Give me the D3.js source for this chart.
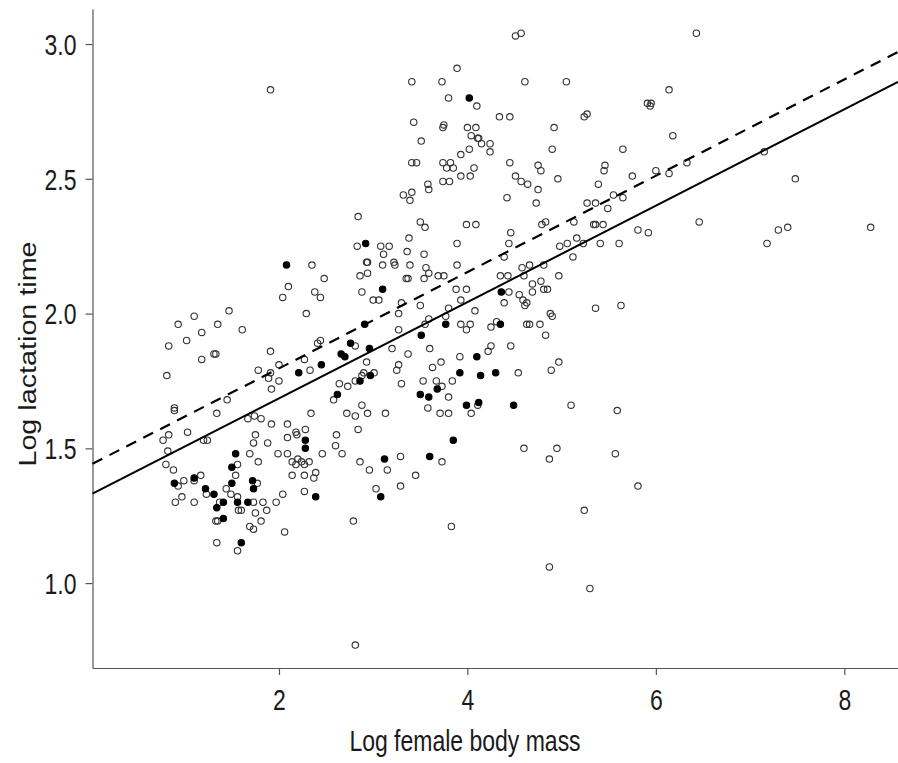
<!DOCTYPE html>
<html>
<head>
<meta charset="utf-8">
<script src="https://cdn.jsdelivr.net/npm/d3@7"></script>
<style>
  html, body { margin: 0; padding: 0; background: #fff; }
  svg { display: block; }
  text { font-family: "Liberation Sans", Arial, sans-serif; }
</style>
</head>
<body>
<svg id="chart" width="898" height="763"></svg>
<script>
// Species drawn as open circles: [log female body mass, log lactation time]
const openPoints = [
  [1.91,2.83],[2.84,2.36],
  [4.51,3.03],[4.57,3.04],[3.89,2.91],[3.41,2.86],[3.73,2.86],[4.61,2.86],[5.05,2.86],[3.80,2.80],
  [4.10,2.77],[3.43,2.71],[4.34,2.73],[4.45,2.73],[5.24,2.73],[5.27,2.74],[3.74,2.69],[3.75,2.70],
  [4.00,2.69],[4.09,2.69],[4.92,2.69],[3.51,2.64],[4.04,2.66],[4.11,2.65],[4.12,2.65],[4.15,2.63],
  [4.24,2.63],[4.02,2.61],[4.24,2.60],[4.90,2.61],[5.65,2.61],[3.93,2.59],[3.41,2.56],[3.46,2.56],
  [3.74,2.56],[3.82,2.56],[3.78,2.54],[3.85,2.54],[4.07,2.54],[4.45,2.56],[4.75,2.55],[4.78,2.53],
  [5.46,2.55],[5.45,2.53],[5.75,2.51],[4.51,2.51],[4.57,2.49],[4.64,2.48],[4.96,2.50],[5.39,2.48],
  [3.74,2.49],[3.81,2.49],[3.93,2.51],[4.03,2.51],[3.58,2.48],[3.59,2.46],[3.32,2.44],[3.41,2.45],
  [3.39,2.42],[4.42,2.43],[4.75,2.46],[4.73,2.41],[5.27,2.41],[5.36,2.41],[5.55,2.44],[5.65,2.43],
  [5.49,2.39],[3.50,2.34],[3.55,2.32],[3.99,2.33],[4.09,2.33],[4.46,2.30],[4.83,2.34],[4.79,2.33],
  [5.13,2.34],[5.34,2.33],[5.36,2.33],[5.44,2.33],
  [6.43,3.04],[6.14,2.83],[5.91,2.78],[5.95,2.78],[5.94,2.77],[6.18,2.66],[6.00,2.53],[6.14,2.52],
  [6.33,2.56],[7.15,2.60],[7.48,2.50],[5.81,2.31],[5.92,2.30],[6.46,2.34],[7.30,2.31],[7.40,2.32],
  [8.28,2.32],[7.18,2.26],[5.81,1.36],
  [2.83,2.25],[2.35,2.18],[2.48,2.13],[2.86,2.14],[2.10,2.10],[2.04,2.06],[2.38,2.08],[2.44,2.06],
  [2.88,2.08],[2.29,2.00],[1.47,2.01],[1.10,1.99],[0.93,1.96],[1.35,1.96],[1.61,1.94],[1.18,1.93],
  [1.02,1.90],[0.83,1.88],[1.91,1.86],[1.31,1.85],[1.33,1.85],[1.18,1.83],[0.81,1.77],[2.44,1.90],
  [2.41,1.89],[2.81,1.88],[2.27,1.83],[2.00,1.81],[1.78,1.79],[1.91,1.78],[2.33,1.79],[1.89,1.76],
  [2.00,1.75],[1.92,1.72],[2.90,1.78],[2.88,1.77],[2.81,1.75],[2.73,1.73],[2.64,1.74],[2.58,1.68],
  [2.88,1.66],[2.72,1.63],[2.81,1.62],[2.84,1.57],[2.34,1.63],[1.45,1.68],[1.34,1.63],[0.89,1.64],
  [0.89,1.65],[1.03,1.56],[0.83,1.55],[0.77,1.53],[1.20,1.53],[1.24,1.53],[1.67,1.61],[1.74,1.62],
  [1.81,1.61],[1.92,1.59],[2.09,1.59],[2.18,1.56],[2.19,1.55],[2.28,1.57],[2.09,1.54],[2.61,1.55],
  [1.75,1.55],[1.88,1.52],[1.73,1.52],
  [0.82,1.49],[1.69,1.48],[1.99,1.48],[2.09,1.48],[2.60,1.51],[2.67,1.48],[2.46,1.48],[2.86,1.45],
  [1.78,1.45],[0.80,1.44],[0.88,1.42],[2.14,1.45],[2.18,1.44],[2.20,1.46],[2.24,1.45],[2.27,1.44],
  [2.32,1.45],[2.39,1.41],[2.37,1.39],[2.14,1.40],[2.27,1.40],[1.56,1.44],[1.54,1.40],[1.17,1.40],
  [1.10,1.38],[0.99,1.38],[0.93,1.36],[1.77,1.37],[1.23,1.33],[1.44,1.35],[1.49,1.33],[0.97,1.32],
  [0.90,1.30],[1.10,1.30],[1.56,1.32],[2.04,1.33],[2.27,1.34],[1.73,1.30],[1.83,1.30],[1.97,1.30],
  [1.37,1.30],[1.57,1.27],[1.60,1.27],[1.75,1.26],[1.87,1.27],[1.33,1.23],[1.35,1.23],[1.81,1.23],
  [1.69,1.21],[1.73,1.20],[2.06,1.19],[1.34,1.15],[1.56,1.12],[2.79,1.23],[2.81,0.77],
  [3.08,2.25],[3.17,2.25],[3.38,2.28],[3.89,2.26],[4.44,2.26],[5.16,2.28],[5.41,2.26],[5.61,2.26],
  [4.98,2.25],[5.06,2.26],[5.23,2.26],[3.11,2.22],[3.36,2.23],[3.54,2.22],[2.93,2.19],[2.94,2.19],
  [3.22,2.19],[3.23,2.18],[3.10,2.18],[3.39,2.18],[2.94,2.15],[3.56,2.17],[3.59,2.15],[3.54,2.13],
  [3.69,2.14],[3.75,2.14],[3.35,2.13],[3.37,2.13],[3.89,2.18],[4.39,2.21],[5.12,2.21],[4.58,2.17],
  [4.66,2.18],[4.81,2.18],[4.35,2.14],[4.43,2.14],[4.60,2.14],[4.97,2.14],[3.00,2.05],[3.06,2.05],
  [3.30,2.04],[3.50,2.03],[3.88,2.09],[3.99,2.09],[3.93,2.05],[3.80,2.02],[4.08,2.01],[4.44,2.08],
  [4.39,2.04],[4.55,2.07],[4.59,2.05],[4.63,2.04],[4.61,2.03],[4.69,2.11],[4.78,2.12],[4.69,2.08],
  [4.81,2.09],[4.85,2.09],[5.36,2.02],[5.63,2.03],[3.27,2.00],[3.59,1.98],[3.55,1.96],[3.77,1.99],
  [3.93,1.96],[3.99,1.94],[4.03,1.96],[4.31,1.97],[4.25,1.95],[4.63,1.96],[4.66,1.96],[4.77,1.96],
  [4.88,2.00],[4.90,1.99],[4.83,1.92],[3.27,1.94],[3.20,1.87],[3.60,1.87],[3.37,1.85],[4.25,1.88],
  [4.22,1.86],[4.46,1.88],[3.92,1.84],[2.93,1.82],[3.01,1.78],[3.27,1.81],[3.25,1.79],[3.63,1.80],
  [3.72,1.82],[4.54,1.78],[4.97,1.82],[4.89,1.79],[3.30,1.74],[3.53,1.75],[3.67,1.75],[3.73,1.73],
  [3.84,1.75],[3.80,1.69],[3.58,1.65],[3.71,1.63],[3.80,1.63],[4.11,1.66],[4.04,1.63],[5.10,1.66],
  [5.59,1.64],[2.94,1.63],[3.13,1.63],
  [4.60,1.50],[4.95,1.50],[4.87,1.46],[5.57,1.48],[2.96,1.42],[3.29,1.47],[3.15,1.42],[3.73,1.45],
  [3.45,1.40],[3.29,1.36],[3.03,1.35],[5.24,1.27],[3.83,1.21],[4.87,1.06],[5.30,0.98]
];

// Species drawn as filled circles
const filledPoints = [
  [4.02,2.80],
  [2.08,2.18],[2.76,1.89],[2.66,1.85],[2.70,1.84],[2.45,1.81],[2.21,1.78],[2.86,1.75],[2.62,1.70],
  [2.28,1.53],
  [1.54,1.48],[2.28,1.50],[1.50,1.43],[1.10,1.39],[0.89,1.37],[1.50,1.37],[1.72,1.38],[1.22,1.35],
  [1.73,1.35],[1.31,1.33],[2.39,1.32],[1.41,1.30],[1.56,1.30],[1.67,1.30],[1.34,1.28],[1.41,1.24],
  [1.60,1.15],
  [2.92,2.26],[3.10,2.09],[4.36,2.08],[2.91,1.96],[3.77,1.96],[4.35,1.96],[3.51,1.92],[2.96,1.87],
  [4.10,1.84],[2.97,1.77],[3.92,1.78],[4.14,1.77],[4.30,1.78],[3.68,1.72],[3.50,1.70],[3.59,1.69],
  [3.99,1.66],[4.12,1.67],[4.49,1.66],[3.85,1.53],
  [3.12,1.46],[3.60,1.47],[3.08,1.32]
];

// Fitted lines: [intercept, slope]
const fitSolid = [1.328, 0.1787];
const fitDashed = [1.439, 0.1787];

const xTicks = [2, 4, 6, 8];
const yTicks = [1.0, 1.5, 2.0, 2.5, 3.0];
const xTitle = "Log female body mass";
const yTitle = "Log lactation time";

const svg = d3.select("#chart");

// Plot region spans the axes' full extent
const xDomain = [0.021, 8.57];
const yDomain = [0.685, 3.13];
const x = d3.scaleLinear().domain(xDomain).range([92.5, 898]);
const y = d3.scaleLinear().domain(yDomain).range([668, 9]);

const axisColor = "#555";
const textColor = "#1a1a1a";
const fontSize = 23;
const stretch = "scale(1,1.25)";   // tall, narrow lettering

// X axis
const gx = svg.append("g")
  .attr("transform", `translate(0,${y(yDomain[0])})`)
  .call(d3.axisBottom(x).tickValues(xTicks).tickFormat(d3.format("d"))
    .tickSize(7).tickSizeOuter(0));
gx.selectAll(".tick text")
  .attr("y", null).attr("dy", null)
  .attr("transform", `translate(0,42) ${stretch}`);

// Y axis
const gy = svg.append("g")
  .attr("transform", `translate(${x(xDomain[0])},0)`)
  .call(d3.axisLeft(y).tickValues(yTicks).tickFormat(d3.format(".1f"))
    .tickSize(7).tickSizeOuter(0));
gy.selectAll(".tick text")
  .attr("x", null).attr("dy", "0.36em")
  .attr("transform", `translate(-16,0) ${stretch}`);

[gx, gy].forEach(g => {
  g.select(".domain").attr("stroke", axisColor).attr("stroke-width", 1.2);
  g.selectAll(".tick line").attr("stroke", axisColor).attr("stroke-width", 1.2);
  g.selectAll(".tick text").attr("fill", textColor)
    .style("font-size", fontSize + "px")
    .style("font-family", "'Liberation Sans', Arial, sans-serif");
});

// Axis titles
svg.append("text")
  .attr("transform", `translate(465,751) ${stretch}`)
  .attr("text-anchor", "middle")
  .attr("fill", textColor)
  .style("font-size", fontSize + "px")
  .text(xTitle);

svg.append("text")
  .attr("transform", `translate(36,354) ${stretch} rotate(-90)`)
  .attr("text-anchor", "middle")
  .attr("fill", textColor)
  .style("font-size", fontSize + "px")
  .text(yTitle);

// Points
const pts = svg.append("g");
pts.selectAll("circle.open")
  .data(openPoints)
  .join("circle")
  .attr("class", "open")
  .attr("cx", d => x(d[0]))
  .attr("cy", d => y(d[1]))
  .attr("r", 3.2)
  .attr("fill", "none")
  .attr("stroke", "#333")
  .attr("stroke-width", 1.1);

pts.selectAll("circle.filled")
  .data(filledPoints)
  .join("circle")
  .attr("class", "filled")
  .attr("cx", d => x(d[0]))
  .attr("cy", d => y(d[1]))
  .attr("r", 3.2)
  .attr("fill", "#000")
  .attr("stroke", "#000")
  .attr("stroke-width", 1.1);

// Regression lines across the plotted mass range
const fitLine = d3.line().x(d => x(d[0])).y(d => y(d[1]));
const lineData = f => xDomain.map(v => [v, f[0] + f[1] * v]);

svg.append("path")
  .attr("d", fitLine(lineData(fitSolid)))
  .attr("fill", "none")
  .attr("stroke", "#000")
  .attr("stroke-width", 2);

svg.append("path")
  .attr("d", fitLine(lineData(fitDashed)))
  .attr("fill", "none")
  .attr("stroke", "#000")
  .attr("stroke-width", 2.2)
  .attr("stroke-dasharray", "11,8");
</script>
</body>
</html>
